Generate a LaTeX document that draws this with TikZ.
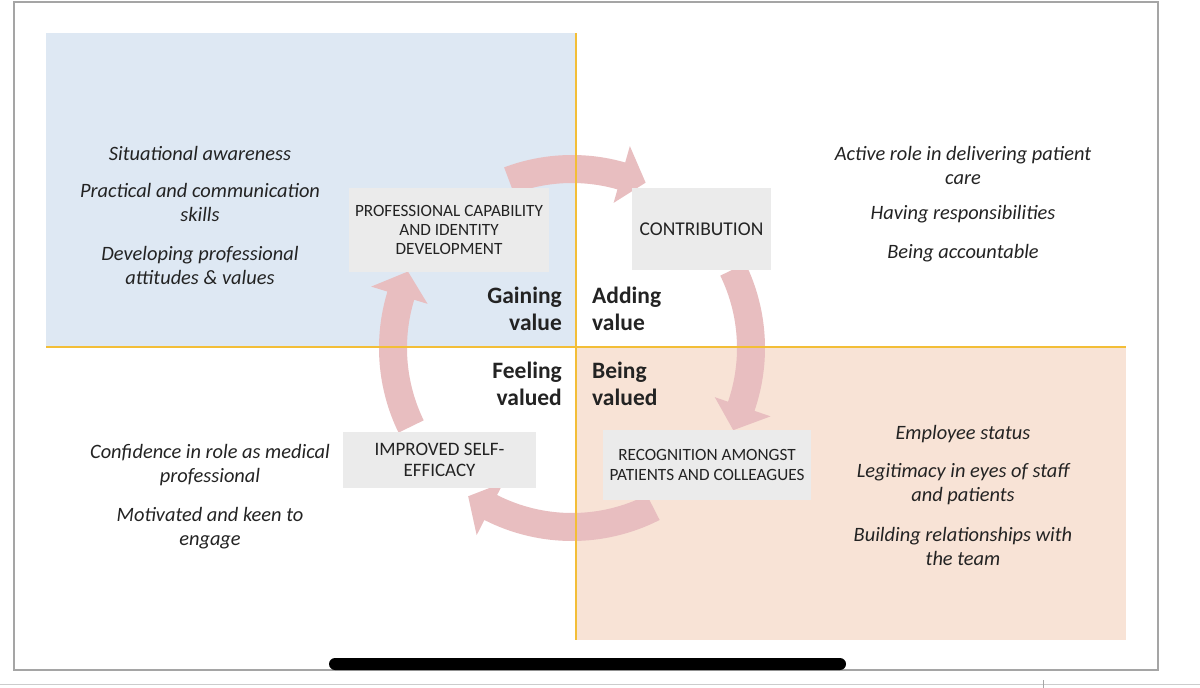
\documentclass[tikz,border=0pt]{standalone}
\usepackage{fontspec}
\setmainfont{Carlito}
\definecolor{qblue}{RGB}{222,232,243}
\definecolor{qpeach}{RGB}{248,227,214}
\definecolor{qline}{RGB}{243,190,55}
\definecolor{boxgray}{RGB}{235,235,235}
\definecolor{arrowpink}{RGB}{232,190,192}
\definecolor{txt}{RGB}{35,35,35}
\definecolor{frame}{RGB}{165,165,165}
\newcommand{\circarrow}[3]{%
  \fill[arrowpink] ({-#1}:193) arc[start angle={-#1}, end angle={-#2}, radius=193]
    -- ({-#2}:210) -- ({-#3}:181) -- ({-#2}:151) -- ({-#2}:165)
    arc[start angle={-#2}, end angle={-#1}, radius=165] -- cycle;}
\begin{document}
\begin{tikzpicture}[x=1pt,y=-1pt,
  itext/.style={font=\itshape\fontsize{20.4}{24}\selectfont, align=center, text=txt, inner sep=0pt},
  lab/.style={font=\bfseries\fontsize{23.5}{27}\selectfont, text=txt, inner sep=0pt},
  box/.style={fill=boxgray, inner sep=0pt, align=center, font=\fontsize{17.2}{19}\selectfont, text=txt},
  qlinestyle/.style={draw=qline, line width=2.8pt}]
\useasboundingbox (0,0) rectangle (1200,688);
\fill[white] (0,0) rectangle (1200,688);
% outer frame
\draw[frame, line width=1.5pt] (14,2) rectangle (1158,670);
\draw[gray!40, line width=1pt] (0,684) -- (1200,684);
\draw[gray!70, line width=0.8pt] (1043,680) -- (1043,688);
% quadrants
\fill[qblue] (46,33) rectangle (576,347);
\fill[qpeach] (576,347) rectangle (1126,640);
% circular arrows
\begin{scope}[shift={(572,348)}]
  \circarrow{110.6}{74}{66}
  \circarrow{26}{-19}{-27}
  \circarrow{-63}{-117}{-125}
  \circarrow{-154}{-197}{-205}
\end{scope}
% axes
\coordinate (vtop) at (576,33);
\coordinate (vbot) at (576,640);
\coordinate (hleft) at (46,347);
\coordinate (hright) at (1126,347);
\draw[qlinestyle] (vtop) -- (vbot);
\draw[qlinestyle] (hleft) -- (hright);
% boxes
\node[box, minimum width=200pt, minimum height=84pt] (prof) at (449,230) {PROFESSIONAL CAPABILITY\\AND IDENTITY\\DEVELOPMENT};
\node[box, minimum width=139pt, minimum height=82pt, font=\fontsize{19.5}{21}\selectfont] (contrib) at (701.5,229) {CONTRIBUTION};
\node[box, minimum width=193pt, minimum height=56pt, font=\fontsize{19}{21}\selectfont] (selfeff) at (439.5,460) {IMPROVED SELF-\\EFFICACY};
\node[box, minimum width=208pt, minimum height=70pt, font=\fontsize{17.2}{20}\selectfont] (recog) at (707,465) {RECOGNITION AMONGST\\PATIENTS AND COLLEAGUES};
% quadrant labels
\node[lab, anchor=east, align=right] (gaining) at (562,309) {Gaining\\value};
\node[lab, anchor=west, align=left] (adding) at (592,309) {Adding\\value};
\node[lab, anchor=east, align=right] (feeling) at (562,384) {Feeling\\valued};
\node[lab, anchor=west, align=left] (being) at (592,384) {Being\\valued};
% italic items
\node[itext] (tl1) at (200,153) {Situational awareness};
\node[itext] (tl2) at (200,202) {Practical and communication\\skills};
\node[itext] (tl3) at (200,265) {Developing professional\\attitudes \& values};
\node[itext] (tr1) at (963,165) {Active role in delivering patient\\care};
\node[itext] (tr2) at (963,214) {Having responsibilities};
\node[itext] (tr3) at (963,253) {Being accountable};
\node[itext] (bl1) at (210,465) {Confidence in role as medical\\professional};
\node[itext] (bl2) at (210,528) {Motivated and keen to\\engage};
\node[itext] (br1) at (963,434) {Employee status};
\node[itext] (br2) at (963,484) {Legitimacy in eyes of staff\\and patients};
\node[itext] (br3) at (963,546) {Building relationships with\\the team};
% black bar
\fill[black, rounded corners=6pt] (329,658) rectangle (846,670);
\end{tikzpicture}
\end{document}
